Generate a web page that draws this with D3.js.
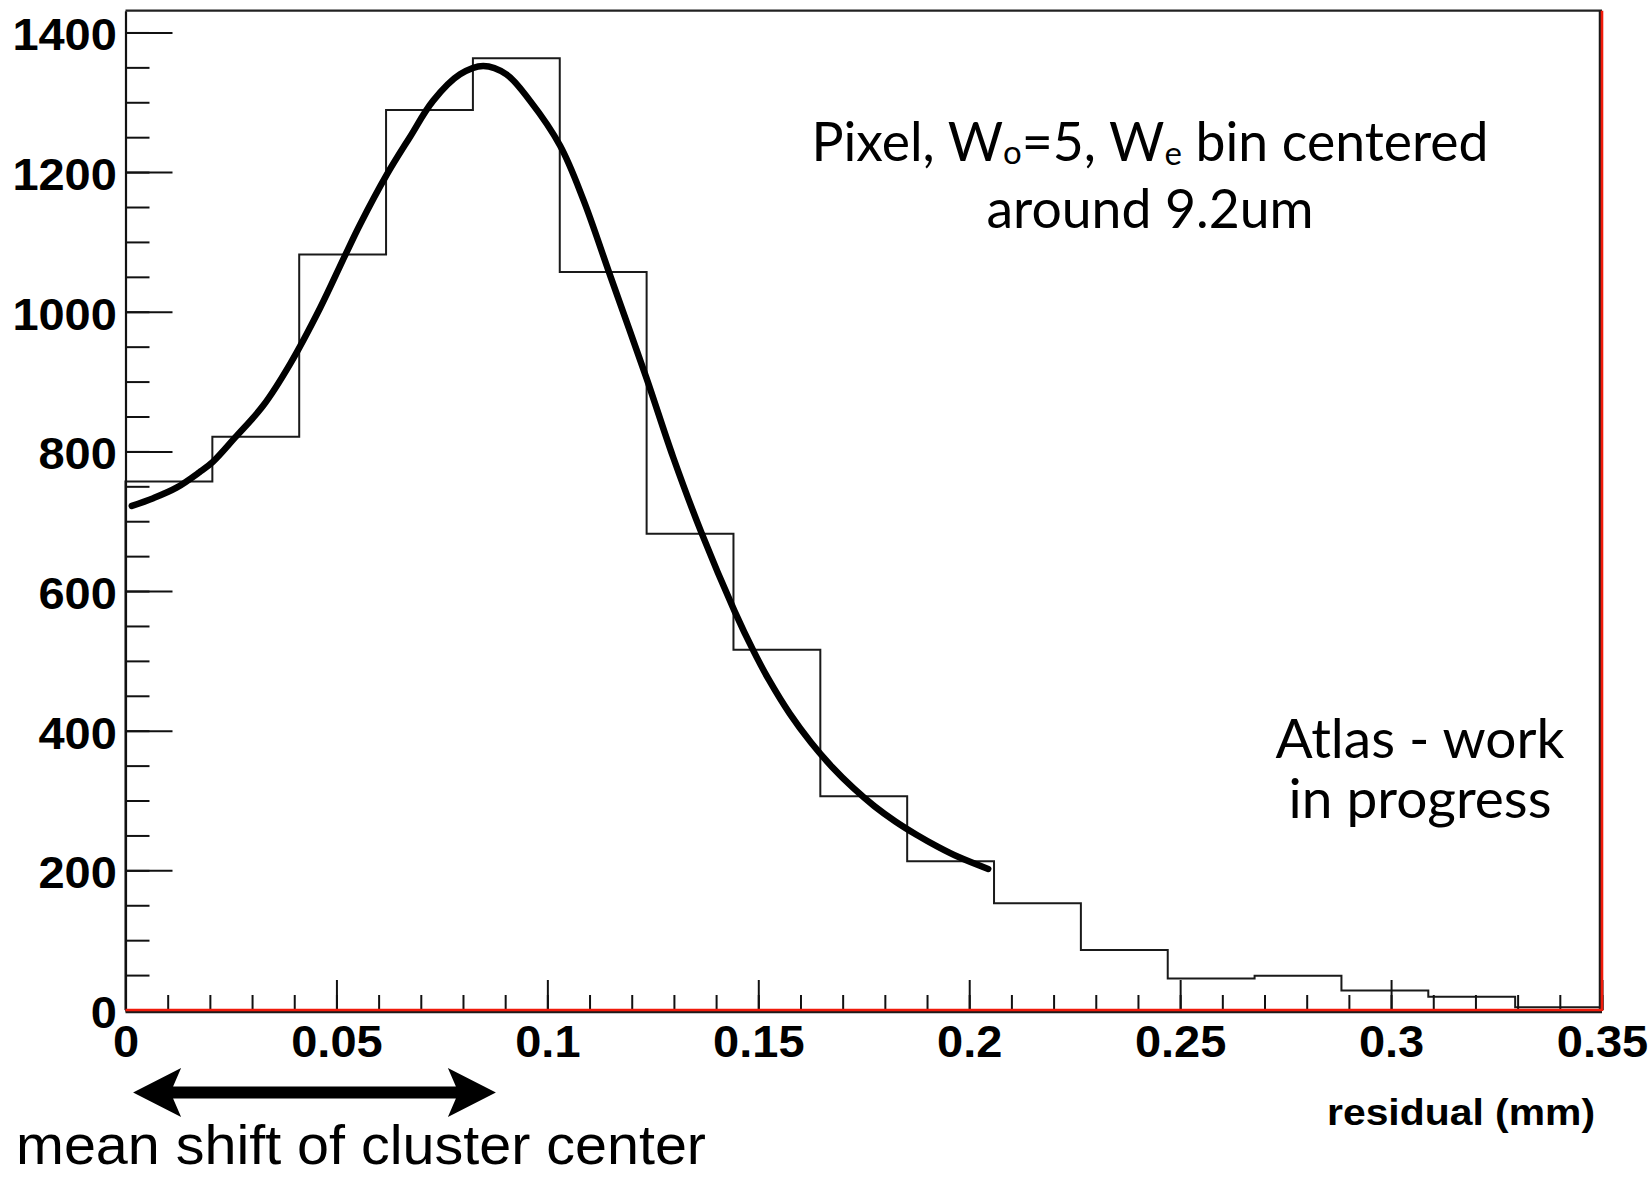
<!DOCTYPE html>
<html>
<head>
<meta charset="utf-8">
<script src="https://cdn.jsdelivr.net/npm/d3@7"></script>
<style>
  html, body { margin: 0; padding: 0; background: #fff; }
  svg { display: block; }
</style>
</head>
<body>
<svg id="chart" width="1652" height="1177"></svg>
<script>
// Residual distribution: 17 equal-width bins spanning 0 – 0.35 mm
const binLow = 0;
const binHigh = 0.35;
const binCounts = [757, 821, 1082, 1289, 1363, 1057, 682, 516, 306, 213, 153, 86, 45, 49, 28, 19, 4];

// Fitted curve, sampled over the fit range (x in mm, y in entries)
const fitX = [0.0015, 0.0066, 0.0121, 0.0175, 0.0207, 0.0260, 0.0327, 0.0390, 0.0461, 0.0520,
              0.0556, 0.0619, 0.0674, 0.0729, 0.0793, 0.0848, 0.0903, 0.0959, 0.1030, 0.1085,
              0.1150, 0.1235, 0.1298, 0.1365, 0.1444, 0.1488, 0.1525, 0.1575, 0.1625, 0.1675,
              0.1725, 0.1775, 0.1825, 0.1875, 0.1925, 0.1975, 0.2045];
const fitY = [722, 733, 748, 770, 785, 820, 866, 925, 1005, 1080,
              1125, 1196, 1250, 1302, 1340, 1352, 1340, 1302, 1238, 1161,
              1050, 905, 792, 684, 571, 515, 473, 424, 383, 348,
              318, 292, 270, 251, 234, 219, 202];

// Axis ticks
const xTickValues = [0, 0.05, 0.1, 0.15, 0.2, 0.25, 0.3, 0.35];
const xTickLabels = ["0", "0.05", "0.1", "0.15", "0.2", "0.25", "0.3", "0.35"];
const yTickValues = [0, 200, 400, 600, 800, 1000, 1200, 1400];
const yTickLabels = ["0", "200", "400", "600", "800", "1000", "1200", "1400"];
const xMinorStep = 0.01;
const yMinorStep = 50;

// Annotation: mean shift of the cluster centre (mm)
const shiftFrom = 0.0018;
const shiftTo = 0.0878;

// ---------------------------------------------------------------
const frame = { left: 125.5, right: 1602, top: 10.7, bottom: 1010 };
const labelFont = "'Liberation Sans', Arial, Helvetica, sans-serif";
const slideFont = "Lato, 'Noto Sans', sans-serif";
const ink = "#111";
const red = "#f01a0a";

const svg = d3.select("#chart");

const nBins = binCounts.length;
const binWidth = (binHigh - binLow) / nBins;
const yMax = d3.max(binCounts) * 1.05;

const x = d3.scaleLinear().domain([binLow, binHigh]).range([frame.left, frame.right]);
const y = d3.scaleLinear().domain([0, yMax]).range([frame.bottom, frame.top]);

// Histogram outline
const histPts = [[binLow, 0]];
binCounts.forEach((c, i) => {
  histPts.push([binLow + i * binWidth, c]);
  histPts.push([binLow + (i + 1) * binWidth, c]);
});
histPts.push([binHigh, 0]);

svg.append("path")
  .attr("d", d3.line().x(d => x(d[0])).y(d => y(d[1]))(histPts))
  .attr("fill", "none")
  .attr("stroke", "#1a1a1a")
  .attr("stroke-width", 2);

// Fit curve
const fitPts = fitX.map((v, i) => [v, fitY[i]]);
svg.append("path")
  .attr("d", d3.line().curve(d3.curveCatmullRom.alpha(0.5)).x(d => x(d[0])).y(d => y(d[1]))(fitPts))
  .attr("fill", "none")
  .attr("stroke", "#000")
  .attr("stroke-width", 6.5)
  .attr("stroke-linecap", "round")
  .attr("stroke-linejoin", "round");

// Minor ticks
const xMinor = d3.range(0, Math.round((binHigh - binLow) / xMinorStep) + 1).map(i => binLow + i * xMinorStep);
const yMinor = d3.range(0, Math.floor(yMax / yMinorStep) + 1).map(i => i * yMinorStep);

svg.append("g")
  .attr("transform", `translate(0,${frame.bottom})`)
  .call(d3.axisBottom(x).tickValues(xMinor).tickSizeInner(-15).tickSizeOuter(0).tickFormat(""))
  .call(g => g.select(".domain").remove())
  .call(g => g.selectAll("line").attr("stroke", ink).attr("stroke-width", 2));

svg.append("g")
  .attr("transform", `translate(${frame.left},0)`)
  .call(d3.axisLeft(y).tickValues(yMinor).tickSizeInner(-24).tickSizeOuter(0).tickFormat(""))
  .call(g => g.select(".domain").remove())
  .call(g => g.selectAll("line").attr("stroke", ink).attr("stroke-width", 2));

// Major ticks and labels
svg.append("g")
  .attr("transform", `translate(0,${frame.bottom})`)
  .call(d3.axisBottom(x).tickValues(xTickValues)
    .tickFormat((d, i) => xTickLabels[i])
    .tickSizeInner(-30).tickSizeOuter(0).tickPadding(16))
  .call(g => g.select(".domain").remove())
  .call(g => g.selectAll("line").attr("stroke", ink).attr("stroke-width", 2))
  .call(g => g.selectAll("text")
    .attr("fill", "#000")
    .attr("font-family", labelFont)
    .attr("font-weight", "bold")
    .attr("font-size", 43.5)
    .attr("transform", "scale(1.08,1)"));

svg.append("g")
  .attr("transform", `translate(${frame.left},0)`)
  .call(d3.axisLeft(y).tickValues(yTickValues)
    .tickFormat((d, i) => yTickLabels[i])
    .tickSizeInner(-47).tickSizeOuter(0).tickPadding(8))
  .call(g => g.select(".domain").attr("stroke", ink).attr("stroke-width", 2.2))
  .call(g => g.selectAll("line").attr("stroke", ink).attr("stroke-width", 2))
  .call(g => g.selectAll("text")
    .attr("fill", "#000")
    .attr("dy", "0.4em")
    .attr("font-family", labelFont)
    .attr("font-weight", "bold")
    .attr("font-size", 43.5)
    .attr("transform", "scale(1.08,1)"));

// Frame: top edge plain, bottom and right edges red with a dark shadow line
svg.append("line")
  .attr("x1", x(binLow)).attr("x2", x(binHigh))
  .attr("y1", y(yMax)).attr("y2", y(yMax))
  .attr("stroke", "#222").attr("stroke-width", 2.2);

svg.append("line")
  .attr("x1", x(binLow)).attr("x2", x(binHigh))
  .attr("y1", y(0) + 2).attr("y2", y(0) + 2)
  .attr("stroke", "#1a1a1a").attr("stroke-width", 2.5);
svg.append("line")
  .attr("x1", x(binHigh) - 2).attr("x2", x(binHigh) - 2)
  .attr("y1", y(yMax)).attr("y2", y(0))
  .attr("stroke", "#1a1a1a").attr("stroke-width", 2.5);
svg.append("line")
  .attr("x1", x(binLow)).attr("x2", x(binHigh))
  .attr("y1", y(0)).attr("y2", y(0))
  .attr("stroke", red).attr("stroke-width", 2.6);
svg.append("line")
  .attr("x1", x(binHigh)).attr("x2", x(binHigh))
  .attr("y1", y(yMax)).attr("y2", y(0) + 1)
  .attr("stroke", red).attr("stroke-width", 2.6);

// Axis title
svg.append("text")
  .attr("x", 1327).attr("y", 1125)
  .attr("font-family", labelFont)
  .attr("font-weight", "bold")
  .attr("font-size", 37)
  .attr("textLength", 268)
  .attr("lengthAdjust", "spacingAndGlyphs")
  .attr("fill", "#000")
  .text("residual (mm)");

// Description text, upper right
const desc = svg.append("text")
  .attr("font-family", slideFont)
  .attr("font-size", 53.5)
  .attr("fill", "#000")
  .attr("text-anchor", "middle");
const l1 = desc.append("tspan").attr("x", 1150).attr("y", 161);
l1.append("tspan").text("Pixel, W");
l1.append("tspan").attr("font-size", 33).attr("dy", 3).text("o");
l1.append("tspan").attr("dy", -3).text("=5, W");
l1.append("tspan").attr("font-size", 33).attr("dy", 4).text("e");
l1.append("tspan").attr("dy", -4).text(" bin centered");
desc.append("tspan").attr("x", 1150).attr("y", 228).text("around 9.2um");

const atlas = svg.append("text")
  .attr("font-family", slideFont)
  .attr("font-size", 55)
  .attr("fill", "#000")
  .attr("text-anchor", "middle");
atlas.append("tspan").attr("x", 1420).attr("y", 758).text("Atlas - work");
atlas.append("tspan").attr("x", 1420).attr("y", 818).text("in progress");

// Double-headed arrow under the axis
const ay = 1092.5, headLen = 48, headHalf = 24.5, notch = 40, shaftHalf = 6;
const ax1 = x(shiftFrom), ax2 = x(shiftTo);
const arrow = [
  [ax1, ay],
  [ax1 + headLen, ay - headHalf],
  [ax1 + notch, ay - shaftHalf],
  [ax2 - notch, ay - shaftHalf],
  [ax2 - headLen, ay - headHalf],
  [ax2, ay],
  [ax2 - headLen, ay + headHalf],
  [ax2 - notch, ay + shaftHalf],
  [ax1 + notch, ay + shaftHalf],
  [ax1 + headLen, ay + headHalf]
];
svg.append("path")
  .attr("d", d3.line()(arrow) + "Z")
  .attr("fill", "#000");

svg.append("text")
  .attr("x", 16).attr("y", 1164)
  .attr("font-family", labelFont)
  .attr("font-size", 56)
  .attr("textLength", 690)
  .attr("lengthAdjust", "spacingAndGlyphs")
  .attr("fill", "#000")
  .text("mean shift of cluster center");
</script>
</body>
</html>
